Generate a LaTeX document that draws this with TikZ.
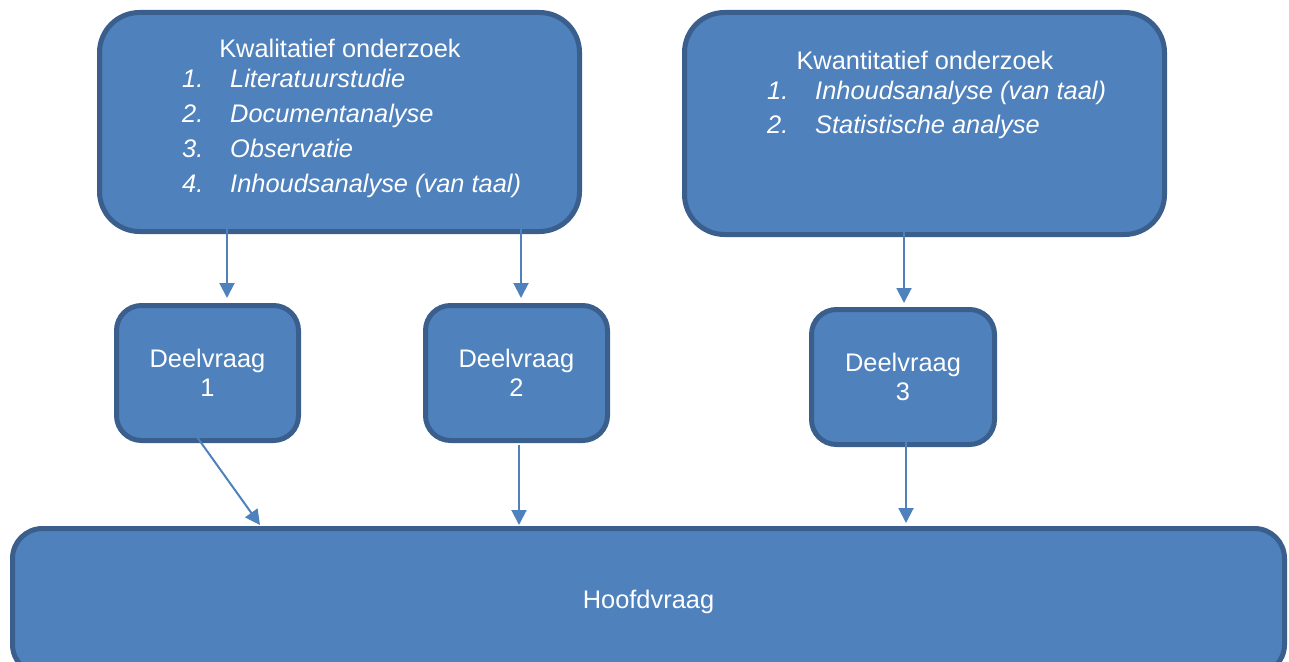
\documentclass[tikz,border=0pt]{standalone}
\usepackage{fontspec}
\setmainfont{Liberation Sans}
\usetikzlibrary{arrows.meta}
\definecolor{boxfill}{HTML}{4F81BD}
\definecolor{boxline}{HTML}{3A5F8D}
\begin{document}
\begin{tikzpicture}[x=1pt,y=-1pt,
  box/.style={draw=boxline, line width=5pt, fill=boxfill, text=white,
              align=center, inner sep=0pt, font=\fontsize{25.4}{29}\selectfont},
  lbl/.style={text=white, inner sep=0pt, anchor=base, font=\fontsize{25.4}{29}\selectfont},
  num/.style={lbl, anchor=base west, font=\fontsize{25.4}{29}\selectfont\itshape},
  link/.style={draw=boxfill, line width=2pt, -{Triangle[length=15pt,width=15pt]}}]
\clip (0,0) rectangle (1289,661);

% research method boxes
\node[box, rounded corners=40pt, minimum width=480pt, minimum height=219pt] (kwal) at (339.5,122) {};
\node[box, rounded corners=40pt, minimum width=480pt, minimum height=222pt] (kwan) at (924.5,123.5) {};

\node[lbl] (kwaltitle) at (340,57) {Kwalitatief onderzoek};
\node[num] (k1n) at (182,87)  {1.};
\node[num] (k1t) at (230,87)  {Literatuurstudie};
\node[num] (k2n) at (182,122) {2.};
\node[num] (k2t) at (230,122) {Documentanalyse};
\node[num] (k3n) at (182,157) {3.};
\node[num] (k3t) at (230,157) {Observatie};
\node[num] (k4n) at (182,192) {4.};
\node[num] (k4t) at (230,192) {Inhoudsanalyse (van taal)};

\node[lbl] (kwantitle) at (925,70) {Kwantitatief onderzoek};
\node[num] (q1n) at (767,99)  {1.};
\node[num] (q1t) at (815,99)  {Inhoudsanalyse (van taal)};
\node[num] (q2n) at (767,133) {2.};
\node[num] (q2t) at (815,133) {Statistische analyse};

% sub-questions
\node[box, rounded corners=25pt, minimum width=182pt, minimum height=135pt] (d1) at (207.5,373) {Deelvraag\\1};
\node[box, rounded corners=25pt, minimum width=182pt, minimum height=135pt] (d2) at (516.5,373) {Deelvraag\\2};
\node[box, rounded corners=25pt, minimum width=183pt, minimum height=135pt] (d3) at (903,377) {Deelvraag\\3};

% main question
\node[box, rounded corners=30pt, minimum width=1272pt, minimum height=146pt] (hoofd) at (648.5,601.5) {Hoofdvraag};

% connector end points
\coordinate (a1s) at (227,216);  \coordinate (a1e) at (227,298);
\coordinate (a2s) at (521,216);  \coordinate (a2e) at (521,298);
\coordinate (a3s) at (904,220);  \coordinate (a3e) at (904,303);
\coordinate (b1s) at (197,437);  \coordinate (b1e) at (260,525);
\coordinate (b2s) at (519,445);  \coordinate (b2e) at (519,525);
\coordinate (b3s) at (906,442);  \coordinate (b3e) at (906,523);

\draw[link] (a1s) -- (a1e);
\draw[link] (a2s) -- (a2e);
\draw[link] (a3s) -- (a3e);
\draw[link] (b1s) -- (b1e);
\draw[link] (b2s) -- (b2e);
\draw[link] (b3s) -- (b3e);
\end{tikzpicture}
\end{document}
